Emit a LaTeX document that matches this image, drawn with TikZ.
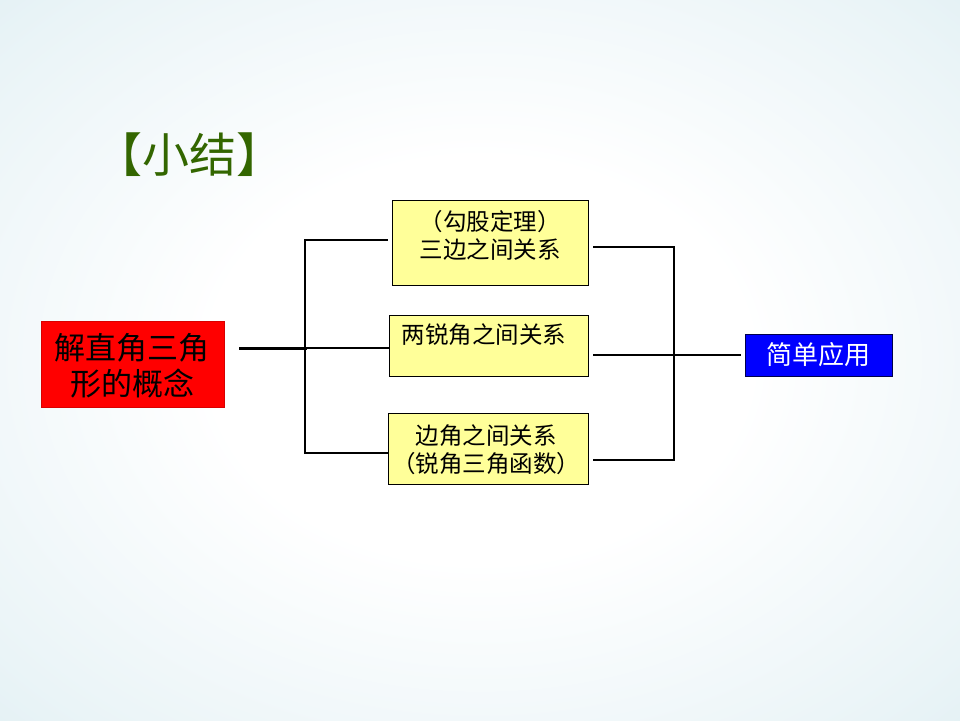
\documentclass[tikz,border=0pt]{standalone}
\usepackage{fontspec}
\newfontfamily\cjk{Noto Sans CJK SC}
\definecolor{edgecol}{RGB}{208,231,236}
\definecolor{midcol}{RGB}{234,244,247}
\definecolor{titlegreen}{RGB}{51,102,0}
\definecolor{yellowbox}{RGB}{255,255,153}
\definecolor{redbox}{RGB}{255,0,0}
\definecolor{bluebox}{RGB}{0,0,255}
\pgfdeclareradialshading{bgshade}{\pgfpoint{0bp}{0bp}}{%
  color(0bp)=(white); color(14bp)=(white); color(32bp)=(midcol); color(50bp)=(edgecol); color(72bp)=(edgecol)}
\tikzset{
  ybox/.style={draw=black, line width=0.9pt, fill=yellowbox, inner sep=0pt, anchor=north west},
  conn/.style={line width=2.2pt, line cap=rect},
  boxtext/.style={font=\cjk\fontsize{23.5pt}{28pt}\selectfont, align=center, inner sep=0pt}
}
\begin{document}
\begin{tikzpicture}[x=1pt,y=-1pt]
\useasboundingbox (0,0) rectangle (960,720);
\shade[shading=bgshade] (0,0) rectangle (960,720);
% title
\node[font=\cjk\fontsize{47pt}{48pt}\selectfont, text=titlegreen, inner sep=0pt] (title) at (189,155) {【小结】};
% red box
\node[draw=redbox!85!black, line width=0.5pt, fill=redbox, minimum width=183pt, minimum height=86pt, anchor=north west, inner sep=0pt] (red) at (41,321) {};
\node[font=\cjk\fontsize{31pt}{36pt}\selectfont, align=center, inner sep=0pt] (redtext) at (132,366) {解直角三角\\形的概念};
% yellow boxes
\node[ybox, minimum width=196pt, minimum height=85pt] (b1) at (392,200) {};
\node[boxtext] (b1text) at (490,235) {（勾股定理）\\三边之间关系};
\node[ybox, minimum width=199pt, minimum height=61pt] (b2) at (389,315) {};
\node[boxtext] (b2text) at (484,335) {两锐角之间关系};
\node[ybox, minimum width=200pt, minimum height=71pt] (b3) at (388,413) {};
\node[boxtext] (b3text) at (486,450) {边角之间关系\\（锐角三角函数）};
% blue box
\node[draw=black!70!blue, line width=1pt, fill=bluebox, minimum width=147pt, minimum height=42pt, anchor=north west, inner sep=0pt] (blue) at (745,334) {};
\node[font=\cjk\fontsize{26pt}{28pt}\selectfont, text=white, inner sep=0pt] (bluetext) at (818,355) {简单应用};
% left connectors
\coordinate (ls) at (240,348);
\coordinate (jl) at (305,348);
\coordinate (jl1) at (305,240);
\coordinate (jl3) at (305,453);
\draw[conn, line width=3pt] (ls) -- (jl);
\draw[conn] (jl1) -- (jl3);
\draw[conn, shorten >=5pt] (jl1) -- (jl1 -| b1.west);
\draw[conn, shorten >=1pt] (jl) -- (jl -| b2.west);
\draw[conn, shorten >=1pt] (jl3) -- (jl3 -| b3.west);
% right connectors
\coordinate (jr1) at (674,247);
\coordinate (jr) at (674,355);
\coordinate (jr3) at (674,460);
\draw[conn] (jr1) -- (jr3);
\draw[conn, shorten <=5pt] (b1.east |- jr1) -- (jr1);
\draw[conn, shorten <=5pt, shorten >=5pt] (b2.east |- jr) -- (jr -| blue.west);
\draw[conn, shorten <=5pt] (b3.east |- jr3) -- (jr3);
\end{tikzpicture}
\end{document}
